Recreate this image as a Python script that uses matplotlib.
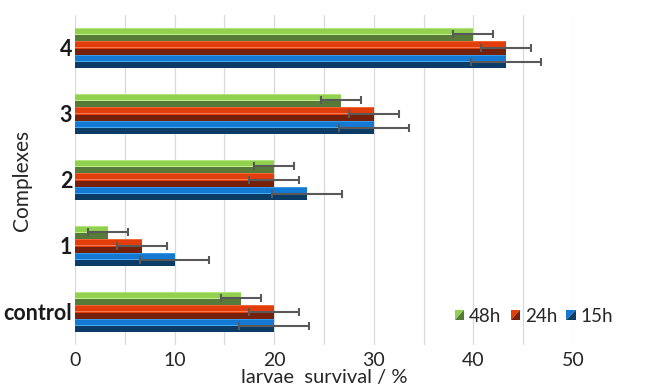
import matplotlib
matplotlib.use("Agg")
import matplotlib.pyplot as plt
import numpy as np
from matplotlib.legend_handler import HandlerBase
from matplotlib.patches import Polygon, Patch

plt.rcParams['font.family'] = ['Lato', 'DejaVu Sans']

categories = ["control", "1", "2", "3", "4"]
series = ["15h", "24h", "48h"]
v15 = [20.0, 10.0, 23.3, 30.0, 43.3]
v24 = [20.0, 6.7, 20.0, 30.0, 43.3]
v48 = [16.7, 3.3, 20.0, 26.7, 40.0]
e15 = [3.5, 3.5, 3.5, 3.5, 3.5]
e24 = [2.5, 2.5, 2.5, 2.5, 2.5]
e48 = [2.0, 2.0, 2.0, 2.0, 2.0]

colors = {
    "15h": ("#1479d2", "#0b3c66", "#4aa8f0"),
    "24h": ("#e23e0c", "#74200a", "#f47a4e"),
    "48h": ("#92d050", "#577a38", "#c0ee8e"),
}

fig = plt.figure(figsize=(6.54, 3.87), dpi=100)
ax = fig.add_axes([75/654, 1-345/387, (573-75)/654, (345-15)/387])

y = np.arange(len(categories))
h = 0.206
offs = {"15h": -h, "24h": 0.0, "48h": h}
vals = {"15h": v15, "24h": v24, "48h": v48}
errs = {"15h": e15, "24h": e24, "48h": e48}

for s in series:
    yc = y + offs[s]
    top, dark, light = colors[s]
    ax.barh(yc, vals[s], height=h, color=top, edgecolor='none', zorder=2)
    ax.barh(yc - h*0.27, vals[s], height=h*0.46, color=dark, edgecolor='none', zorder=2)
    ax.barh(yc + h*0.02, vals[s], height=h*0.08, color=light, edgecolor='none', zorder=2)
    ax.barh(yc + h*0.45, vals[s], height=h*0.08, color=light, edgecolor='none', zorder=2, alpha=0.7)
    ax.errorbar(vals[s], yc, xerr=errs[s], fmt='none', ecolor='#595959',
                elinewidth=1.5, capsize=3, capthick=1.5, zorder=3)

ax.set_xlim(0, 50)
ax.set_ylim(-0.5, 4.5)
ax.set_xticks([0, 10, 20, 30, 40, 50])
ax.set_xticks(np.arange(0, 51, 5), minor=True)
ax.grid(axis='x', which='both', color='#d9d9d9', linewidth=0.9, zorder=0)
ax.set_axisbelow(True)
for sp in ax.spines.values():
    sp.set_visible(False)
ax.tick_params(axis='both', which='both', length=0)
ax.tick_params(axis='x', labelsize=14, pad=5, labelcolor='#262626')
ax.set_yticks(y)
ax.set_yticklabels(categories, fontsize=15.5, fontweight='bold', color='#1a1a1a')
ax.tick_params(axis='y', pad=2)
ax.set_xlabel("larvae  survival / %", fontsize=14.5, color='#262626')
ax.xaxis.set_label_coords(0.5, -(377-345)/330, transform=ax.transAxes)
ax.xaxis.label.set_va('center')
ax.set_ylabel("Complexes", fontsize=15, color='#262626')
ax.yaxis.set_label_coords((22-75)/498, 0.5)
ax.yaxis.label.set_va('center')


class BevelHandler(HandlerBase):
    def __init__(self, light, dark):
        super().__init__()
        self.light = light
        self.dark = dark

    def create_artists(self, legend, orig_handle, xdescent, ydescent, width, height, fontsize, trans):
        s = min(width, height)
        x0 = -xdescent + (width - s)
        y0 = -ydescent + (height - s) / 2
        p1 = Polygon([[x0, y0], [x0, y0 + s], [x0 + s, y0 + s]], closed=True,
                     facecolor=self.light, edgecolor='none', transform=trans)
        p2 = Polygon([[x0, y0], [x0 + s, y0], [x0 + s, y0 + s]], closed=True,
                     facecolor=self.dark, edgecolor='none', transform=trans)
        return [p1, p2]


handles = [Patch(label=s) for s in ["48h", "24h", "15h"]]
hmap = {handles[i]: BevelHandler(colors[s][0], colors[s][1]) for i, s in enumerate(["48h", "24h", "15h"])}
leg = ax.legend(handles=handles, handler_map=hmap, ncol=3, frameon=False,
                fontsize=13.5, handlelength=0.5, handleheight=0.5, handletextpad=0.25,
                columnspacing=0.5, loc='center', bbox_to_anchor=((534-75)/498, (345-316)/330))
for t in leg.get_texts():
    t.set_color('#262626')

fig.savefig("out.png", dpi=100)
